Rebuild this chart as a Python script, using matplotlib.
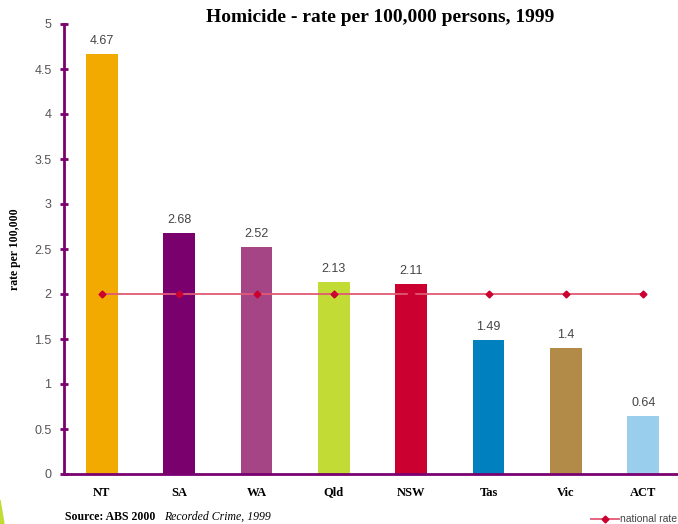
import matplotlib.pyplot as plt
from matplotlib.patches import Polygon

# homicide rate per 100,000 persons, 1999
states = ['NT', 'SA', 'WA', 'Qld', 'NSW', 'Tas', 'Vic', 'ACT']
rates = [4.67, 2.68, 2.52, 2.13, 2.11, 1.49, 1.4, 0.64]
rate_labels = ['4.67', '2.68', '2.52', '2.13', '2.11', '1.49', '1.4', '0.64']
national_rate = [2.0] * len(states)
yticks = [0, 0.5, 1, 1.5, 2, 2.5, 3, 3.5, 4, 4.5, 5]
ytick_labels = ['0', '0.5', '1', '1.5', '2', '2.5', '3', '3.5', '4', '4.5', '5']

bar_colors = ['#f2a900', '#7a006e', '#a54585', '#c3dc35',
              '#cc0030', '#0080bf', '#b38b48', '#99cfec']
axis_color = '#7a0070'
serif = 'Liberation Serif'
sans = 'Liberation Sans'

fig = plt.figure(figsize=(6.78, 5.24), dpi=100)
ax = fig.add_axes([64 / 678, 1 - 474 / 524, 1 - 64 / 678, 450 / 524])

x = list(range(len(states)))
ax.bar(x, rates, width=0.41, color=bar_colors, zorder=2)
for xi, v, lab in zip(x, rates, rate_labels):
    ax.text(xi, v + 0.08, lab, ha='center', va='bottom', fontsize=9,
            color='#444444', family=sans)

ax.plot(x, national_rate, color='#e05a74', lw=1.3, marker='D', ms=3.5,
        mfc='#cc0030', mec='#cc0030', zorder=3)

ax.set_xlim(-0.49, 7.45)
ax.set_ylim(0, 5)
ax.set_yticks(yticks)
ax.set_yticklabels(ytick_labels, fontsize=9, color='#555555', family=sans)
ax.set_xticks(x)
ax.set_xticklabels(states, family=serif, fontweight='bold', fontsize=9)
ax.tick_params(axis='x', length=0, pad=9)
ax.tick_params(axis='y', direction='inout', length=6, width=2,
               color=axis_color, pad=6)

for side in ['top', 'right']:
    ax.spines[side].set_visible(False)
for side in ['left', 'bottom']:
    ax.spines[side].set_color(axis_color)
    ax.spines[side].set_linewidth(2)

ax.set_ylabel('rate per 100,000', family=serif, fontweight='bold', fontsize=8.5)
ax.yaxis.set_label_coords(-(64 - 21) / 614, 0.5)

fig.text(380 / 678, 1 - 17 / 524, 'Homicide - rate per 100,000 persons, 1999',
         ha='center', va='center', family=serif, fontweight='bold', fontsize=14)

fig.text(65 / 678, 1 - 517 / 524, 'Source: ABS 2000 ', ha='left', va='center',
         family=serif, fontweight='bold', fontsize=8.5)
fig.text(164 / 678, 1 - 517 / 524, 'Recorded Crime, 1999', ha='left',
         va='center', family=serif, style='italic', fontsize=8.5)

# legend entry at bottom right
fig.add_artist(plt.Line2D([591 / 678, 619 / 678], [1 - 519 / 524] * 2,
                          color='#e05a74', lw=1.3, transform=fig.transFigure))
fig.add_artist(plt.Line2D([605 / 678], [1 - 519 / 524], marker='D', ms=3.5,
                          color='#cc0030', transform=fig.transFigure))
fig.text(620 / 678, 1 - 519 / 524, 'national rate', ha='left', va='center',
         fontsize=7.5, color='#444444', family=sans)

# green corner accent
fig.add_artist(Polygon([[0, 0], [0, 24 / 524], [4 / 678, 0]],
                       closed=True, color='#c3dc35', transform=fig.transFigure))

fig.savefig('out.png', dpi=100)
